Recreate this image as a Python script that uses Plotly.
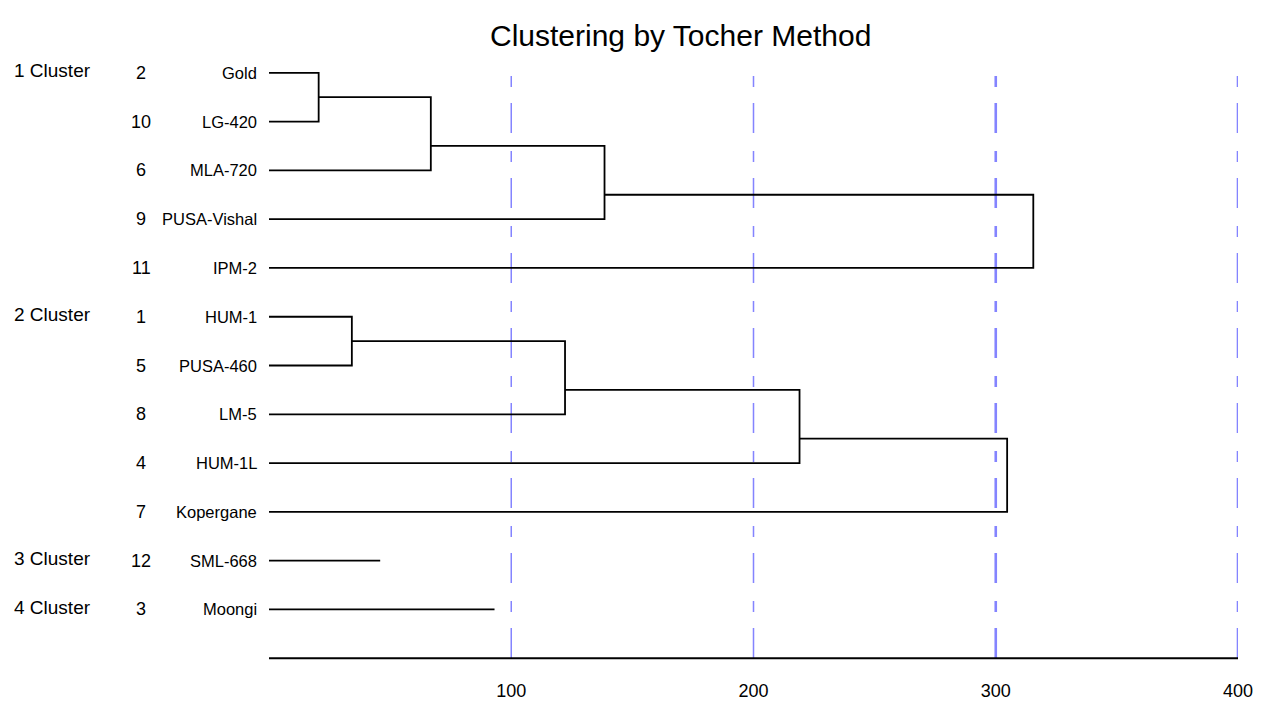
import plotly.graph_objects as go

# ---------------- data ----------------
genotypes = ["Gold", "LG-420", "MLA-720", "PUSA-Vishal", "IPM-2",
             "HUM-1", "PUSA-460", "LM-5", "HUM-1L", "Kopergane",
             "SML-668", "Moongi"]
genotype_numbers = [2, 10, 6, 9, 11, 1, 5, 8, 4, 7, 12, 3]
cluster_names = ["1 Cluster", "2 Cluster", "3 Cluster", "4 Cluster"]
cluster_sizes = [5, 5, 1, 1]
# successive merge heights inside each cluster (chain merging);
# for single-member clusters the height is the length of the branch
cluster_heights = [
    [20.5, 66.8, 138.5, 315.5],
    [34.2, 122.2, 219.0, 304.7],
    [45.9],
    [93.1],
]
tick_values = [100, 200, 300, 400]
tick_labels = ["100", "200", "300", "400"]
title_text = "Clustering by Tocher Method"

FONT = "Liberation Sans Narrow, Arial Narrow, Liberation Sans, Arial, sans-serif"

# ---------------- build dendrogram segments ----------------
xs, ys = [], []
row = 0
for size, heights in zip(cluster_sizes, cluster_heights):
    if size == 1:
        xs += [0, heights[0], None]
        ys += [row, row, None]
        row += 1
        continue
    first = row
    h = heights[0]
    xs += [0, h, h, 0, None]
    ys += [first, first, first + 1, first + 1, None]
    node_x = h
    node_y = (first + first + 1) / 2
    for k in range(2, size):
        leaf = first + k
        h = heights[k - 1]
        xs += [node_x, h, h, 0, None]
        ys += [node_y, node_y, leaf, leaf, None]
        node_x = h
        node_y = (leaf - 1 + leaf) / 2
    row += size

n_rows = len(genotypes)

fig = go.Figure()

# vertical reference lines
for v in tick_values:
    fig.add_trace(go.Scatter(
        x=[v, v], y=[0.068, n_rows + 0.2], mode="lines",
        line=dict(color="rgba(110,110,255,0.85)", width=1.5 if v < 300 else 2.6,
                  dash="11px,16px,30px,18px"),
        hoverinfo="skip", showlegend=False))

# dendrogram
fig.add_trace(go.Scatter(x=xs, y=ys, mode="lines",
                         line=dict(color="black", width=1.8),
                         hoverinfo="skip", showlegend=False))

# bottom axis line
fig.add_trace(go.Scatter(x=[0, tick_values[-1]], y=[n_rows, n_rows], mode="lines",
                         line=dict(color="black", width=1.8),
                         hoverinfo="skip", showlegend=False))

annotations = []
for i, (name, num) in enumerate(zip(genotypes, genotype_numbers)):
    annotations.append(dict(x=0, y=i, xref="x", yref="y", text=name, showarrow=False,
                            xanchor="right", yanchor="middle", xshift=-10,
                            font=dict(family=FONT, size=16.5, color="black")))
    annotations.append(dict(x=0, y=i, xref="x", yref="y", text=str(num), showarrow=False,
                            xanchor="center", yanchor="middle", xshift=-128,
                            font=dict(family=FONT, size=18, color="black")))
start = 0
for cname, size in zip(cluster_names, cluster_sizes):
    annotations.append(dict(x=0, y=start, xref="x", yref="y", text=cname, showarrow=False,
                            xanchor="left", yanchor="middle", xshift=-257, yshift=2,
                            font=dict(family=FONT, size=19, color="black")))
    start += size

annotations.append(dict(x=169.8, y=-0.77, xref="x", yref="y", text=title_text,
                        showarrow=False, xanchor="center", yanchor="middle",
                        font=dict(family=FONT, size=30, color="black")))

fig.update_layout(
    width=1253, height=701,
    margin=dict(l=261, r=23, t=16, b=41),
    plot_bgcolor="white", paper_bgcolor="white",
    annotations=annotations,
    xaxis=dict(range=[0, 400], showgrid=False, zeroline=False, showline=False,
               tickvals=tick_values, ticktext=tick_labels, ticks="",
               ticklabelstandoff=10, automargin=False,
               tickfont=dict(family=FONT, size=18, color="black")),
    yaxis=dict(range=[n_rows + 0.2, -1], showgrid=False, zeroline=False,
               showline=False, showticklabels=False, ticks="", automargin=False),
)

fig.write_html("out.html")
